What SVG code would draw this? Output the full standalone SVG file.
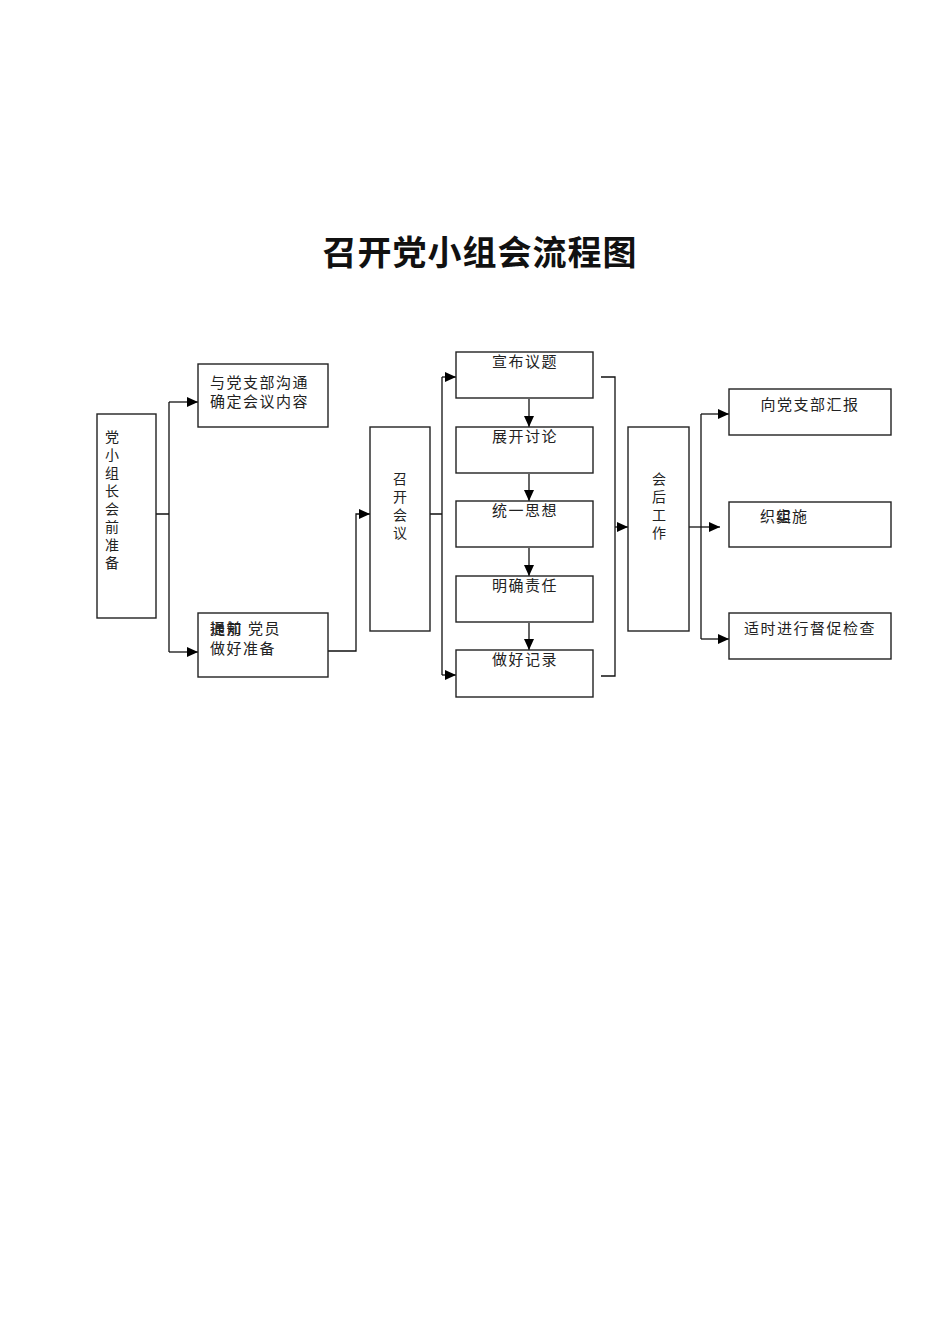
<svg xmlns="http://www.w3.org/2000/svg" width="950" height="1344" viewBox="0 0 950 1344">
<style>
.box{fill:#fff;stroke:#222;stroke-width:1.4}
.t{font-family:"Noto Sans CJK SC","Noto Sans",sans-serif;font-size:15px;fill:#222;letter-spacing:1.5px}
.v{font-family:"Noto Sans CJK SC","Noto Sans",sans-serif;font-size:14px;fill:#222;text-anchor:middle}
.c{text-anchor:middle}
.ln{fill:none;stroke:#111;stroke-width:1.3}
.title{font-family:"Noto Sans CJK SC",sans-serif;font-size:34px;font-weight:700;fill:#111;text-anchor:middle;letter-spacing:1px}
</style>
<defs>
<marker id="ah" markerUnits="userSpaceOnUse" markerWidth="12" markerHeight="10" refX="11" refY="5" orient="auto">
<path d="M0,0 L11,5 L0,10 Z" fill="#000"/>
</marker>
</defs>
<rect width="950" height="1344" fill="#fff"/>
<text class="title" x="480" y="265">召开党小组会流程图</text>

<g id="connectors">
<path class="ln" d="M156,514 H169 M169,402 V652"/>
<path class="ln" d="M169,402 H198" marker-end="url(#ah)"/>
<path class="ln" d="M169,652 H198" marker-end="url(#ah)"/>
<path class="ln" d="M328,651 H356 V514 H370" marker-end="url(#ah)"/>
<path class="ln" d="M430,514 H442 M442,377 V675"/>
<path class="ln" d="M442,377 H456" marker-end="url(#ah)"/>
<path class="ln" d="M442,675 H456" marker-end="url(#ah)"/>
<path class="ln" d="M529,399 V427" marker-end="url(#ah)"/>
<path class="ln" d="M529,474 V501" marker-end="url(#ah)"/>
<path class="ln" d="M529,548 V576" marker-end="url(#ah)"/>
<path class="ln" d="M529,623 V650" marker-end="url(#ah)"/>
<path class="ln" d="M601,377 H615 V676 H601"/>
<path class="ln" d="M615,527 H628" marker-end="url(#ah)"/>
<path class="ln" d="M689,527 H720" marker-end="url(#ah)"/>
<path class="ln" d="M701,414 V639"/>
<path class="ln" d="M701,414 H729" marker-end="url(#ah)"/>
<path class="ln" d="M701,639 H729" marker-end="url(#ah)"/>
</g>

<g id="n1"><rect class="box" x="97" y="414" width="59" height="204"/>
<text class="v"><tspan x="112" y="442">党</tspan><tspan x="112" y="460">小</tspan><tspan x="112" y="478">组</tspan><tspan x="112" y="496">长</tspan><tspan x="112" y="514">会</tspan><tspan x="112" y="532">前</tspan><tspan x="112" y="550">准</tspan><tspan x="112" y="568">备</tspan></text></g>

<g id="n2"><rect class="box" x="198" y="364" width="130" height="63"/>
<text class="t" x="210" y="388">与党支部沟通</text><text class="t" x="210" y="407">确定会议内容</text></g>

<g id="n3"><rect class="box" x="198" y="613" width="130" height="64"/>
<text class="t" x="210" y="634">提前</text><text class="t" x="210" y="634">通知</text><text class="t" x="248" y="634">党员</text>
<text class="t" x="210" y="654">做好准备</text></g>

<g id="n4"><rect class="box" x="370" y="427" width="60" height="204"/>
<text class="v"><tspan x="400" y="484">召</tspan><tspan x="400" y="502">开</tspan><tspan x="400" y="520">会</tspan><tspan x="400" y="538">议</tspan></text></g>

<g id="n5"><rect class="box" x="456" y="352" width="137" height="46"/>
<text class="t c" x="525" y="367">宣布议题</text></g>
<g id="n6"><rect class="box" x="456" y="427" width="137" height="46"/>
<text class="t c" x="525" y="442">展开讨论</text></g>
<g id="n7"><rect class="box" x="456" y="501" width="137" height="46"/>
<text class="t c" x="525" y="516">统一思想</text></g>
<g id="n8"><rect class="box" x="456" y="576" width="137" height="46"/>
<text class="t c" x="525" y="591">明确责任</text></g>
<g id="n9"><rect class="box" x="456" y="650" width="137" height="47"/>
<text class="t c" x="525" y="665">做好记录</text></g>

<g id="n10"><rect class="box" x="628" y="427" width="61" height="204"/>
<text class="v"><tspan x="659" y="484">会</tspan><tspan x="659" y="502">后</tspan><tspan x="659" y="520">工</tspan><tspan x="659" y="538">作</tspan></text></g>

<g id="n11"><rect class="box" x="729" y="389" width="162" height="46"/>
<text class="t c" x="810" y="410">向党支部汇报</text></g>
<g id="n12"><rect class="box" x="729" y="502" width="162" height="45"/>
<text class="t" x="760" y="522">织</text><text class="t" x="776" y="522">组</text><text class="t" x="776" y="522">实</text><text class="t" x="792" y="522">施</text></g>
<g id="n13"><rect class="box" x="729" y="613" width="162" height="46"/>
<text class="t c" x="810" y="634">适时进行督促检查</text></g>
</svg>
